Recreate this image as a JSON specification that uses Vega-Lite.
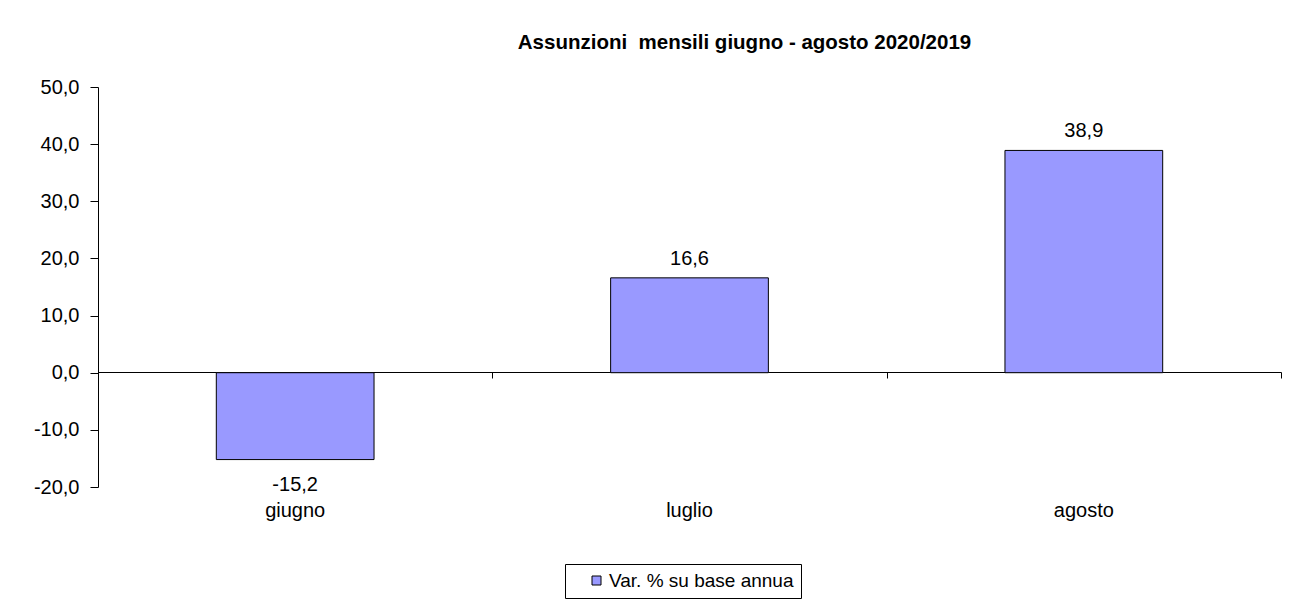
{
  "$schema": "https://vega.github.io/schema/vega-lite/v6.json",
  "width": 1183,
  "height": 400,
  "autosize": {"type": "none"},
  "padding": {"left": 98, "top": 87, "right": 11, "bottom": 114},
  "background": "white",
  "config": {
    "view": {"stroke": null},
    "font": "Liberation Sans",
    "locale": {"number": {"decimal": ",", "thousands": ".", "grouping": [3], "currency": ["€", ""], "minus": "-"}}
  },
  "title": {
    "text": "Assunzioni \u00a0mensili giugno - agosto 2020/2019",
    "font": "Liberation Sans",
    "fontSize": 20.5,
    "fontWeight": "bold",
    "color": "black",
    "anchor": "middle",
    "frame": "group",
    "dx": 55,
    "baseline": "alphabetic",
    "offset": 8
  },
  "data": {
    "values": [
      {"mese": "giugno", "valore": -15.2, "serie": "Var. % su base annua"},
      {"mese": "luglio", "valore": 16.6, "serie": "Var. % su base annua"},
      {"mese": "agosto", "valore": 38.9, "serie": "Var. % su base annua"}
    ]
  },
  "resolve": {"scale": {"x": "shared"}, "axis": {"x": "independent"}},
  "layer": [
    {
      "mark": {"type": "bar", "width": {"band": 0.4}, "stroke": "black", "strokeWidth": 1},
      "encoding": {
        "x": {
          "field": "mese", "type": "nominal", "sort": ["giugno", "luglio", "agosto"],
          "scale": {"paddingInner": 0, "paddingOuter": 0},
          "axis": {"orient": "bottom", "title": null, "domain": false, "ticks": false, "tickSize": 0, "labelPadding": 13, "labelAngle": 0, "labelFont": "Liberation Sans", "labelFontSize": 20, "labelColor": "black"}
        },
        "y": {
          "field": "valore", "type": "quantitative",
          "scale": {"domain": [-20, 50], "nice": false},
          "axis": {"title": null, "values": [-20, -10, 0, 10, 20, 30, 40, 50], "format": ".1f", "grid": false, "domainColor": "black", "tickColor": "black", "tickSize": 8, "labelPadding": 11, "labelFont": "Liberation Sans", "labelFontSize": 20, "labelColor": "black"}
        },
        "color": {
          "field": "serie", "type": "nominal",
          "scale": {"range": ["#9999FF"]},
          "legend": {"title": null, "orient": "none", "legendX": 467, "legendY": 477, "symbolType": "square", "symbolSize": 81, "symbolStrokeColor": "black", "symbolStrokeWidth": 1, "symbolOffset": 15, "labelOffset": 3, "labelLimit": 400, "labelFont": "Liberation Sans", "labelFontSize": 19, "labelColor": "black", "padding": 7, "strokeColor": "black", "fillColor": "white"}
        }
      }
    },
    {
      "transform": [{"filter": "datum.valore >= 0"}],
      "mark": {"type": "text", "baseline": "alphabetic", "dy": -13, "font": "Liberation Sans", "fontSize": 20, "color": "black"},
      "encoding": {
        "x": {
          "field": "mese", "type": "nominal", "sort": ["giugno", "luglio", "agosto"],
          "axis": {"orient": "bottom", "offset": -115, "title": null, "labels": false, "tickBand": "extent", "domainColor": "black", "tickColor": "black", "tickSize": 6}
        },
        "y": {"field": "valore", "type": "quantitative"},
        "text": {"field": "valore", "type": "quantitative", "format": ".1f"}
      }
    },
    {
      "transform": [{"filter": "datum.valore < 0"}],
      "mark": {"type": "text", "baseline": "alphabetic", "dy": 31, "font": "Liberation Sans", "fontSize": 20, "color": "black"},
      "encoding": {
        "x": {"field": "mese", "type": "nominal", "sort": ["giugno", "luglio", "agosto"], "axis": null},
        "y": {"field": "valore", "type": "quantitative"},
        "text": {"field": "valore", "type": "quantitative", "format": ".1f"}
      }
    }
  ]
}
